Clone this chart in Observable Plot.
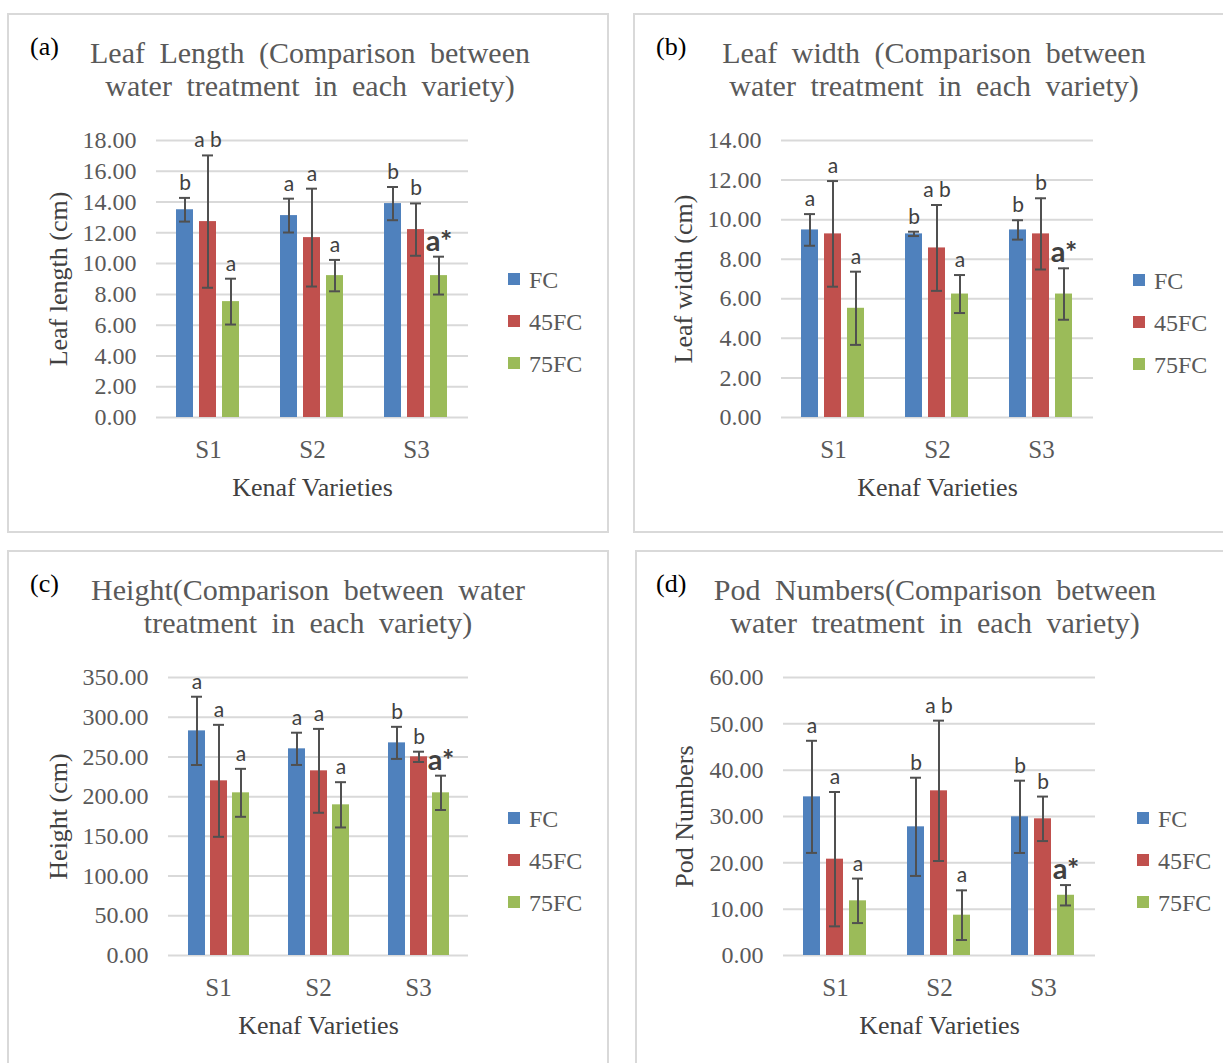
<!DOCTYPE html>
<html>
<head>
<meta charset="utf-8">
<script src="https://cdn.jsdelivr.net/npm/d3@7"></script>
<script src="https://cdn.jsdelivr.net/npm/@observablehq/plot@0.6"></script>
<style>
  body { margin: 0; background: #fff; }
  #page { position: relative; width: 1223px; height: 1063px; overflow: hidden; background: #fff;
          font-family: "Liberation Serif", "Times New Roman", serif; }
  .panel { position: absolute; border: 2px solid #d9d9d9; box-sizing: border-box; background: #fff; }
  .tag { position: absolute; font-size: 26px; line-height: 26px; color: #000; white-space: nowrap; }
  .title { position: absolute; width: 600px; text-align: center; font-size: 30px; line-height: 32px;
           color: #595959; white-space: nowrap; word-spacing: 7px; }
  .chart { position: absolute; }
  .swatch { position: absolute; width: 12px; height: 12px; }
  .key { position: absolute; font-size: 24px; line-height: 24px; color: #595959; white-space: nowrap; }
</style>
</head>
<body>
<div id="page"></div>
<script>
// Kenaf varieties and water treatments
const varieties = ["S1", "S2", "S3"];
const treatments = ["FC", "45FC", "75FC"];
const treatmentColors = ["#4F81BD", "#C0504D", "#9BBB59"];

// One row per variety (S1, S2, S3), one column per treatment (FC, 45FC, 75FC)
const leafLengthMean = [[13.50, 12.73, 7.53], [13.12, 11.69, 9.22], [13.90, 12.21, 9.22]];
const leafLengthSD = [[0.77, 4.30, 1.49], [1.10, 3.18, 1.02], [1.08, 1.70, 1.23]];
const leafLengthLetters = [["b", "a b", "a"], ["a", "a", "a"], ["b", "b", "a*"]];
const leafLengthTicks = [0, 2, 4, 6, 8, 10, 12, 14, 16, 18];

const leafWidthMean = [[9.48, 9.28, 5.52], [9.28, 8.57, 6.24], [9.48, 9.28, 6.24]];
const leafWidthSD = [[0.80, 2.67, 1.85], [0.11, 2.17, 0.96], [0.49, 1.80, 1.30]];
const leafWidthLetters = [["a", "a", "a"], ["b", "a b", "a"], ["b", "b", "a*"]];
const leafWidthTicks = [0, 2, 4, 6, 8, 10, 12, 14];

const heightMean = [[282.8, 219.9, 204.8], [260.2, 232.5, 189.7], [267.7, 250.1, 204.8]];
const heightSD = [[43.0, 70.5, 30.2], [20.3, 52.8, 28.5], [20.2, 6.5, 21.6]];
const heightLetters = [["a", "a", "a"], ["a", "a", "a"], ["b", "b", "a*"]];
const heightTicks = [0, 50, 100, 150, 200, 250, 300, 350];

const podMean = [[34.24, 20.79, 11.80], [27.77, 35.54, 8.70], [29.93, 29.50, 13.00]];
const podSD = [[12.10, 14.50, 4.80], [10.60, 15.15, 5.36], [7.80, 4.80, 2.20]];
const podLetters = [["a", "a", "a"], ["b", "a b", "a"], ["b", "b", "a*"]];
const podTicks = [0, 10, 20, 30, 40, 50, 60];

const xLabel = "Kenaf Varieties";

const serif = '"Liberation Serif", "Times New Roman", serif';
const sans = 'Lato, "Open Sans", "Liberation Sans", sans-serif';
const fmt = d3.format(".2f");

const panels = [
  { tag: "(a)", title: ["Leaf Length  (Comparison  between", "water  treatment  in  each  variety)"],
    mean: leafLengthMean, sd: leafLengthSD, letters: leafLengthLetters, ticks: leafLengthTicks,
    ylabel: "Leaf length (cm)",
    box: [7, 13, 602, 520], tagPos: [30, 56], titleCx: 310, titleBase: 63,
    svg: [0, 110], ml: 155, mr: 32, mb: 93, labelOffset: 108, legend: [508, 279] },
  { tag: "(b)", title: ["Leaf width  (Comparison  between", "water  treatment  in  each  variety)"],
    mean: leafWidthMean, sd: leafWidthSD, letters: leafWidthLetters, ticks: leafWidthTicks,
    ylabel: "Leaf width (cm)",
    box: [633, 13, 600, 520], tagPos: [656, 56], titleCx: 934, titleBase: 63,
    svg: [625, 110], ml: 155, mr: 32, mb: 93, labelOffset: 108, legend: [1133, 280] },
  { tag: "(c)", title: ["Height(Comparison  between  water", "treatment  in  each  variety)"],
    mean: heightMean, sd: heightSD, letters: heightLetters, ticks: heightTicks,
    ylabel: "Height (cm)",
    box: [7, 550, 602, 530], tagPos: [30, 593], titleCx: 308, titleBase: 600,
    svg: [0, 647], ml: 167, mr: 32, mb: 92, labelOffset: 120, legend: [508, 818] },
  { tag: "(d)", title: ["Pod Numbers(Comparison  between", "water  treatment  in  each  variety)"],
    mean: podMean, sd: podSD, letters: podLetters, ticks: podTicks,
    ylabel: "Pod Numbers",
    box: [635, 550, 600, 530], tagPos: [656, 593], titleCx: 935, titleBase: 600,
    svg: [625, 647], ml: 158, mr: 30, mb: 92, labelOffset: 109, legend: [1137, 818] }
];

function chart(p) {
  const rows = [];
  varieties.forEach((v, i) => treatments.forEach((t, j) => rows.push({
    variety: v, treatment: t, mean: p.mean[i][j], sd: p.sd[i][j], letter: p.letters[i][j]
  })));
  const lo = d => d.mean - d.sd;
  const hi = d => d.mean + d.sd;
  const starred = d => d.letter.endsWith("*");
  const pos = { fx: "variety", x: "treatment" };
  const errStyle = { stroke: "#505050", strokeWidth: 2 };
  return Plot.plot({
    width: 500,
    height: 400,
    marginLeft: p.ml,
    marginRight: p.mr,
    marginTop: 30,
    marginBottom: p.mb,
    style: { fontFamily: serif, color: "#595959", background: "transparent", overflow: "visible" },
    fx: { domain: varieties, padding: 0 },
    x: { domain: treatments, paddingInner: 0.25, paddingOuter: 0.8, axis: null },
    y: { domain: [0, p.ticks[p.ticks.length - 1]] },
    color: { domain: treatments, range: treatmentColors },
    marks: [
      Plot.gridY(p.ticks, { stroke: "#d9d9d9", strokeOpacity: 1, strokeWidth: 2 }),
      Plot.barY(rows, { ...pos, y: "mean", fill: "treatment" }),
      Plot.ruleX(rows, { ...pos, y1: lo, y2: hi, ...errStyle }),
      Plot.tickY(rows, { ...pos, y: lo, inset: 3, ...errStyle }),
      Plot.tickY(rows, { ...pos, y: hi, inset: 3, ...errStyle }),
      Plot.text(rows.filter(d => !starred(d)), {
        ...pos, y: hi, text: "letter", lineAnchor: "bottom", dy: -8,
        fontFamily: sans, fontSize: 21, fill: "#404040"
      }),
      Plot.text(rows.filter(starred), {
        ...pos, y: hi, text: "letter", lineAnchor: "bottom", dy: -6,
        fontFamily: sans, fontSize: 29, fontWeight: "bold", fill: "#404040"
      }),
      Plot.axisY({ ticks: p.ticks, tickFormat: fmt, tickSize: 0, tickPadding: 20, fontSize: 24, label: null }),
      Plot.axisY({ ticks: [], label: p.ylabel, labelAnchor: "center", labelArrow: "none",
                   labelOffset: p.labelOffset, fontSize: 26, color: "#404040" }),
      Plot.axisFx({ anchor: "bottom", tickSize: 0, tickPadding: 23, fontSize: 25, label: null }),
      Plot.axisFx({ anchor: "bottom", ticks: [], label: xLabel, labelAnchor: "center", labelArrow: "none",
                    labelOffset: 78, fontSize: 26, color: "#404040" })
    ]
  });
}

const page = document.getElementById("page");

for (const p of panels) {
  const box = document.createElement("div");
  box.className = "panel";
  Object.assign(box.style, { left: p.box[0] + "px", top: p.box[1] + "px", width: p.box[2] + "px", height: p.box[3] + "px" });
  page.appendChild(box);
}

for (const p of panels) {
  const tag = document.createElement("div");
  tag.className = "tag";
  tag.textContent = p.tag;
  Object.assign(tag.style, { left: p.tagPos[0] + "px", top: (p.tagPos[1] - 22) + "px" });
  page.appendChild(tag);

  p.title.forEach((line, k) => {
    const t = document.createElement("div");
    t.className = "title";
    t.textContent = line;
    Object.assign(t.style, { left: (p.titleCx - 300) + "px", top: (p.titleBase + 33 * k - 26) + "px" });
    page.appendChild(t);
  });

  const holder = document.createElement("div");
  holder.className = "chart";
  Object.assign(holder.style, { left: p.svg[0] + "px", top: p.svg[1] + "px" });
  holder.appendChild(chart(p));
  page.appendChild(holder);

  treatments.forEach((t, k) => {
    const cy = p.legend[1] + k * 42;
    const sw = document.createElement("div");
    sw.className = "swatch";
    Object.assign(sw.style, { left: p.legend[0] + "px", top: (cy - 6) + "px", background: treatmentColors[k] });
    page.appendChild(sw);
    const key = document.createElement("div");
    key.className = "key";
    key.textContent = t;
    Object.assign(key.style, { left: (p.legend[0] + 21) + "px", top: (cy - 11) + "px" });
    page.appendChild(key);
  });
}
</script>
</body>
</html>
